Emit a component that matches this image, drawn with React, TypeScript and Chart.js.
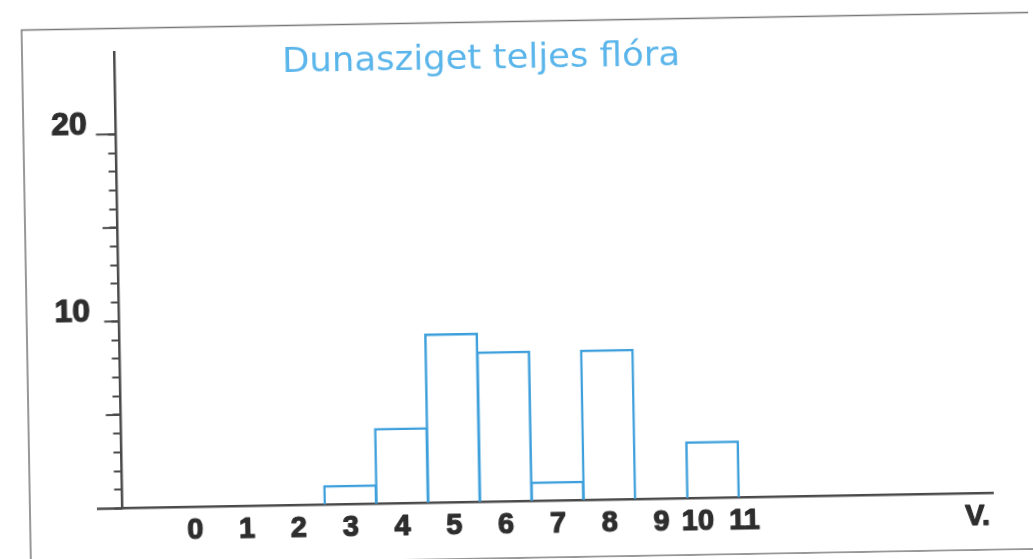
import React, { useEffect, useRef } from "react";
import { Chart, registerables } from "chart.js";

Chart.register(...registerables);

// ---- data ----
const CATEGORIES = ["0", "1", "2", "3", "4", "5", "6", "7", "8", "9", "10", "11"];
const SPECIES_COUNT = [0, 0, 0, 1, 4, 9, 8, 1, 8, 0, 3, 0];
const X_TICK_VALUES = [0, 1, 2, 3, 4, 5, 6, 7, 8, 9, 10, 11];
const X_TICK_LABELS = ["0", "1", "2", "3", "4", "5", "6", "7", "8", "9", "10", "11", "V."];
const X_LABEL_AT = [0, 1, 2, 3, 4, 5, 6, 7, 8, 9, 9.7, 10.6, 15.1];
const Y_TICK_VALUES = [0, 1, 2, 3, 4, 5, 6, 7, 8, 9, 10, 11, 12, 13, 14, 15, 16, 17, 18, 19, 20];
const Y_TICK_LABELS = [10, 20];
const Y_MAJOR_TICKS = [5, 10, 15, 20];
const TITLE = "Dunasziget teljes flóra";

// ---- styles ----
const BAR_BLUE = "#3d9fdb";
const TITLE_BLUE = "#5ab5ea";
const INK = "#4a4a4a";
const FRAME = "#777777";
const LABEL_INK = "#2e2e2e";
const LABEL_FONT = "'Liberation Sans', Arial, sans-serif";

export default function App() {
  const ref = useRef<HTMLCanvasElement | null>(null);

  useEffect(() => {
    const prevMargin = document.body.style.margin;
    document.body.style.margin = "0";
    const canvas = ref.current;
    if (!canvas) return;

    const scanPlugin = {
      id: "scanDecor",
      afterDraw(chart: any) {
        const { ctx, chartArea, scales } = chart;
        const y = scales.y;
        const x = scales.x;
        ctx.save();
        // scanned sheet frame
        ctx.strokeStyle = FRAME;
        ctx.lineWidth = 1.5;
        ctx.beginPath();
        ctx.moveTo(26, 620);
        ctx.lineTo(26, 21.5);
        ctx.lineTo(1080, 21.5);
        ctx.moveTo(26, 558);
        ctx.lineTo(1080, 558);
        ctx.stroke();
        // x axis runs a little past the y axis
        ctx.strokeStyle = INK;
        ctx.lineWidth = 2.5;
        ctx.beginPath();
        ctx.moveTo(chartArea.left - 25.5, chartArea.bottom);
        ctx.lineTo(chartArea.left, chartArea.bottom);
        ctx.stroke();
        // longer marks every 5 units
        ctx.lineWidth = 2;
        for (const v of Y_MAJOR_TICKS) {
          const py = y.getPixelForValue(v);
          const len = v === 20 ? 20 : 15;
          ctx.beginPath();
          ctx.moveTo(chartArea.left - len, py);
          ctx.lineTo(chartArea.left, py);
          ctx.stroke();
        }
        // hand-placed category labels under the axis
        ctx.font = `bold 29px ${LABEL_FONT}`;
        ctx.fillStyle = LABEL_INK;
        ctx.strokeStyle = LABEL_INK;
        ctx.lineWidth = 1.2;
        ctx.lineJoin = "round";
        ctx.textAlign = "center";
        ctx.textBaseline = "alphabetic";
        X_TICK_LABELS.forEach((t, i) => {
          const px = x.getPixelForValue(X_LABEL_AT[i]);
          ctx.fillText(t, px, chartArea.bottom + 31.5);
          ctx.strokeText(t, px, chartArea.bottom + 31.5);
        });
        // hand-lettered title
        ctx.font = "34px 'DejaVu Sans', sans-serif";
        ctx.fillStyle = TITLE_BLUE;
        const w = ctx.measureText(TITLE).width;
        ctx.translate(485, 67.5);
        ctx.scale(398 / w, 1);
        ctx.fillText(TITLE, 0, 0);
        ctx.restore();
      },
    };

    const data = CATEGORIES.map((c, i) => ({ x: Number(c), y: SPECIES_COUNT[i] })).filter((p) => p.y > 0);

    const chart = new Chart(canvas, {
      type: "bar",
      data: {
        datasets: [
          {
            data,
            backgroundColor: "rgba(255,255,255,0)",
            borderColor: BAR_BLUE,
            borderWidth: 0.3,
            inflateAmount: 1.1,
            borderSkipped: "start",
            barPercentage: 1,
            categoryPercentage: 1,
          } as any,
        ],
      },
      options: {
        responsive: false,
        animation: false,
        events: [],
        layout: { padding: { left: 0, top: 45, right: 44, bottom: 0 } },
        plugins: {
          legend: { display: false },
          tooltip: { enabled: false },
          title: { display: false },
        },
        scales: {
          x: {
            type: "linear",
            min: -1.4,
            max: 15.4,
            offset: false,
            grid: { display: false, drawTicks: false, offset: false },
            border: { display: true, color: INK, width: 2.5 },
            ticks: { display: false, autoSkip: false },
            afterBuildTicks: (s: any) => {
              s.ticks = X_TICK_VALUES.map((v) => ({ value: v }));
            },
            afterFit: (s: any) => {
              s.height = 57.5;
            },
          } as any,
          y: {
            type: "linear",
            min: 0,
            max: 24.4,
            grid: {
              display: true,
              drawOnChartArea: false,
              drawTicks: true,
              tickLength: 8,
              tickWidth: 2,
              tickColor: INK,
            },
            border: { display: true, color: INK, width: 2.5 },
            ticks: {
              autoSkip: false,
              padding: 21,
              labelOffset: -9,
              color: LABEL_INK,
              textStrokeColor: LABEL_INK,
              textStrokeWidth: 1.2,
              font: { family: LABEL_FONT, size: 32, weight: "bold" },
              callback: (v: any) => (Y_TICK_LABELS.includes(Number(v)) ? String(v) : ""),
            },
            afterBuildTicks: (s: any) => {
              s.ticks = Y_TICK_VALUES.map((v) => ({ value: v }));
            },
            afterFit: (s: any) => {
              s.width = 118.5;
            },
          } as any,
        },
      },
      plugins: [scanPlugin],
    });

    return () => {
      chart.destroy();
      document.body.style.margin = prevMargin;
    };
  }, []);

  return (
    <div
      style={{
        position: "fixed",
        left: 0,
        top: 0,
        width: 1033,
        height: 559,
        background: "#ffffff",
        transform: "rotate(-1deg)",
        transformOrigin: "516.5px 279.5px",
      }}
    >
      <canvas ref={ref} width={1033} height={559} style={{ display: "block", width: 1033, height: 559 }} />
    </div>
  );
}
